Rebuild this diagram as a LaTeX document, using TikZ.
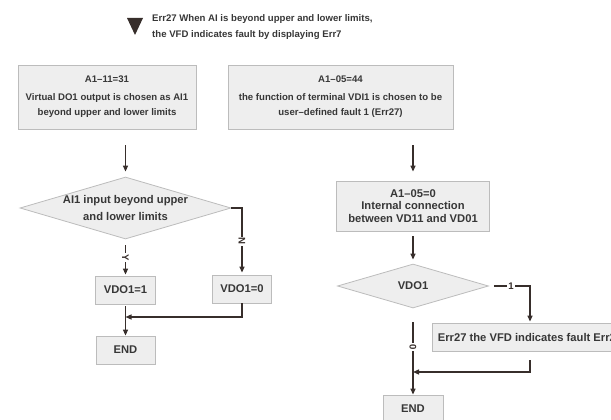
\documentclass[tikz,border=0pt]{standalone}
\usepackage{fontspec}
\setmainfont{Liberation Sans}
\usepackage{tikz}
\usetikzlibrary{shapes.geometric}
\usetikzlibrary{arrows.meta}
\usepackage{xcolor}
\definecolor{ColLine}{RGB}{55,46,43}
\definecolor{ColFill}{RGB}{238,238,238}
\definecolor{ColDraw}{RGB}{188,188,188}
\definecolor{ColText}{RGB}{55,55,55}
\tikzstyle{FontFlow}=[font=\bfseries\fontsize{9.6}{15}\selectfont,text=ColText]
\tikzstyle{FontBig}=[font=\bfseries\fontsize{11.2}{16}\selectfont,text=ColText]
\tikzstyle{BoxFlow}=[rectangle,draw=ColDraw,fill=ColFill,line width=0.8pt,inner sep=0pt,
align=center,FontBig]
\tikzstyle{TestFlow}=[diamond,aspect=3.4,draw=ColDraw,fill=ColFill,line width=0.8pt,inner sep=0pt,
align=center,FontBig]
\tikzstyle{EdgeFlow}=[ColLine,line width=1.3pt,-{Triangle[length=6pt,width=5pt]}]
\tikzstyle{LabelFlow}=[fill=white,inner sep=1.2pt,FontFlow,text=ColLine]

\begin{document}
\begin{tikzpicture}[x=1pt,y=-1pt]
        \clip(0,0)rectangle(611,420);
        % heading
        \fill[ColLine](127,18)--(143,18)--(135,35)--cycle;
        \node[FontFlow,anchor=north west,align=left,inner sep=0pt](head)at(152,14)
            {Err27 When AI is beyond upper and lower limits,\\[1pt]the VFD indicates fault by displaying Err7};
        % left branch
        \node[BoxFlow,FontFlow,minimum width=178pt,minimum height=64pt](boxA)at(107,97)
            {A1--11=31\\[3pt]Virtual DO1 output is chosen as AI1\\beyond upper and lower limits};
        \node[TestFlow,minimum width=211pt,minimum height=62pt](testA)at(125.5,208)
            {AI1 input beyond upper\\[1pt]and lower limits};
        \node[BoxFlow,minimum width=60pt,minimum height=28pt](setA)at(125.5,290){VDO1=1};
        \node[BoxFlow,minimum width=59pt,minimum height=28pt](setB)at(242,289){VDO1=0};
        \node[BoxFlow,minimum width=59pt,minimum height=28pt](endA)at(125.5,350){END};
        \coordinate(joinA)at(125.5,317);
        \draw[EdgeFlow,shorten <=16pt,shorten >=5pt](boxA.south-|testA.north)--(testA.north);
        \draw[EdgeFlow,shorten <=6pt,shorten >=1pt](testA.south)--node[LabelFlow,rotate=-90]{Y}(setA.north);
        \draw[EdgeFlow,shorten >=2pt](testA.east)-|node[LabelFlow,rotate=-90,pos=0.75]{N}(setB.north);
        \draw[EdgeFlow](setB.south)|-(joinA);
        \draw[EdgeFlow,shorten <=2pt](setA.south)--(endA.north);
        % right branch
        \node[BoxFlow,FontFlow,minimum width=225pt,minimum height=64pt](boxB)at(340.5,97)
            {A1--05=44\\[3pt]the function of terminal VDI1 is chosen to be\\user--defined fault 1 (Err27)};
        \node[BoxFlow,minimum width=153pt,minimum height=50pt,
            font=\bfseries\fontsize{11.2}{12.5}\selectfont](stepC)at(413,206)
            {A1--05=0\\Internal connection\\between VD11 and VD01};
        \node[TestFlow,minimum width=151pt,minimum height=44pt](testB)at(413,286){VDO1};
        \node[BoxFlow,minimum width=196pt,minimum height=28pt](errB)at(530,337)
            {Err27 the VFD indicates fault Err27};
        \node[BoxFlow,minimum width=60pt,minimum height=28pt](endB)at(413,409){END};
        \coordinate(joinB)at(530,372);
        \coordinate(joinC)at(413,372);
        \draw[EdgeFlow,shorten <=16pt,shorten >=9pt](boxB.south-|stepC.north)--(stepC.north);
        \draw[EdgeFlow,shorten <=5pt,shorten >=4pt](stepC.south)--(testB.north);
        \draw[EdgeFlow,shorten <=5pt,shorten >=1pt](testB.east)-|node[LabelFlow,pos=0.27]{1}(errB.north);
        \draw[EdgeFlow,shorten <=14pt](testB.south)--node[LabelFlow,rotate=-90,pos=0.45]{0}(endB.north);
        \draw[EdgeFlow,shorten <=9pt](errB.south)|-(joinC);
    \end{tikzpicture}
\end{document}
